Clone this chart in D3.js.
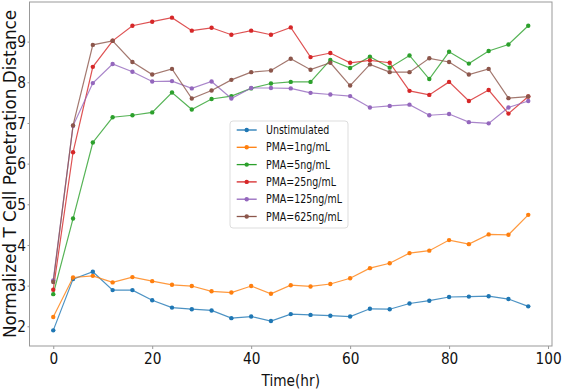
<!DOCTYPE html>
<html>
<head>
<meta charset="utf-8">
<script src="https://cdn.jsdelivr.net/npm/d3@7"></script>
<style>
  body { margin: 0; background: #fff; }
  svg { display: block; font-family: "DejaVu Sans", sans-serif; }
</style>
</head>
<body>
<div id="chart"></div>
<script>
// time points (hours)
var hours = [0, 4, 8, 12, 16, 20, 24, 28, 32, 36, 40, 44, 48, 52, 56, 60, 64, 68, 72, 76, 80, 84, 88, 92, 96];

var seriesNames = ["Unstimulated", "PMA=1ng/mL", "PMA=5ng/mL", "PMA=25ng/mL", "PMA=125ng/mL", "PMA=625ng/mL"];
var seriesColors = ["#1f77b4", "#ff7f0e", "#2ca02c", "#d62728", "#9467bd", "#8c564b"];

var unstimulated = [1.90, 3.16, 3.34, 2.89, 2.89, 2.64, 2.46, 2.42, 2.39, 2.20, 2.24, 2.13, 2.30, 2.28, 2.26, 2.24, 2.43, 2.42, 2.56, 2.63, 2.72, 2.73, 2.74, 2.67, 2.49];
var pma1 = [2.23, 3.20, 3.24, 3.08, 3.21, 3.11, 3.02, 2.99, 2.86, 2.83, 2.99, 2.80, 3.01, 2.98, 3.04, 3.18, 3.43, 3.55, 3.80, 3.86, 4.12, 4.02, 4.26, 4.25, 4.74];
var pma5 = [2.79, 4.65, 6.52, 7.14, 7.19, 7.26, 7.75, 7.33, 7.59, 7.66, 7.85, 7.97, 8.01, 8.01, 8.55, 8.35, 8.63, 8.36, 8.66, 8.08, 8.75, 8.46, 8.77, 8.93, 9.39];
var pma25 = [2.90, 6.28, 8.38, 9.02, 9.39, 9.49, 9.59, 9.27, 9.34, 9.17, 9.27, 9.17, 9.35, 8.62, 8.72, 8.48, 8.54, 8.48, 7.79, 7.69, 8.01, 7.54, 7.81, 7.23, 7.65];
var pma125 = [3.13, 6.93, 7.98, 8.45, 8.26, 8.02, 8.03, 7.85, 8.02, 7.60, 7.86, 7.86, 7.85, 7.74, 7.70, 7.66, 7.38, 7.42, 7.45, 7.19, 7.22, 7.02, 6.99, 7.38, 7.54];
var pma625 = [3.09, 6.94, 8.92, 9.02, 8.50, 8.19, 8.33, 7.60, 7.80, 8.06, 8.25, 8.29, 8.58, 8.31, 8.48, 7.92, 8.44, 8.25, 8.25, 8.59, 8.50, 8.19, 8.33, 7.61, 7.65];

var xTicks = [0, 20, 40, 60, 80, 100];
var yTicks = [2, 3, 4, 5, 6, 7, 8, 9];

var allSeries = [unstimulated, pma1, pma5, pma25, pma125, pma625];

var width = 565, height = 390;
var margin = { top: 2, right: 13, bottom: 44, left: 29.5 };
var innerW = width - margin.left - margin.right;
var innerH = height - margin.top - margin.bottom;
var SX = 0.83; // the picture is squeezed a bit horizontally
var fontSize = 16.5;

var svg = d3.select("#chart").append("svg")
    .attr("width", width)
    .attr("height", height);

var chart = svg.append("g")
    .attr("transform", "translate(" + margin.left + "," + margin.top + ")");

// matplotlib style 5% margins
var xExt = d3.extent(hours);
var xPad = (xExt[1] - xExt[0]) * 0.05;
var yExt = d3.extent(d3.merge(allSeries));
var yPad = (yExt[1] - yExt[0]) * 0.05;

var x = d3.scaleLinear().domain([xExt[0] - xPad, xExt[1] + xPad]).range([0, innerW]);
var y = d3.scaleLinear().domain([yExt[0] - yPad, yExt[1] + yPad]).range([innerH, 0]);

// axes
var xAxis = chart.append("g")
    .attr("transform", "translate(0," + innerH + ")")
    .call(d3.axisBottom(x).tickValues(xTicks).tickSize(3).tickPadding(3));
xAxis.selectAll("text")
    .attr("font-size", fontSize)
    .attr("font-family", "DejaVu Sans")
    .attr("fill", "#111")
    .attr("transform", "scale(" + SX + ",1)");

var yAxis = chart.append("g")
    .call(d3.axisLeft(y).tickValues(yTicks).tickSize(2).tickPadding(0));
yAxis.selectAll("text")
    .attr("font-size", fontSize)
    .attr("font-family", "DejaVu Sans")
    .attr("fill", "#111")
    .attr("x", -3.5 / SX)
    .attr("transform", "scale(" + SX + ",1)");

chart.selectAll(".domain").remove();
chart.selectAll(".tick line").attr("stroke", "#999");

// frame
chart.append("rect")
    .attr("width", innerW)
    .attr("height", innerH)
    .attr("fill", "none")
    .attr("stroke", "#999")
    .attr("stroke-width", 1);

// lines
var line = d3.line()
    .x(function (d, i) { return x(hours[i]); })
    .y(function (d) { return y(d); });

allSeries.forEach(function (vals, s) {
    chart.append("path")
        .datum(vals)
        .attr("d", line)
        .attr("fill", "none")
        .attr("stroke", seriesColors[s])
        .attr("stroke-opacity", 0.8)
        .attr("stroke-width", 1.2);

    chart.selectAll(".pt" + s)
        .data(vals)
        .enter().append("circle")
        .attr("class", "pt" + s)
        .attr("cx", function (d, i) { return x(hours[i]); })
        .attr("cy", function (d) { return y(d); })
        .attr("r", 2.2)
        .attr("fill", seriesColors[s]);
});

// legend
var legend = svg.append("g").attr("transform", "translate(230,121)");
legend.append("rect")
    .attr("width", 118)
    .attr("height", 107)
    .attr("rx", 3)
    .attr("fill", "#fff")
    .attr("fill-opacity", 0.8)
    .attr("stroke", "#ddd");

seriesNames.forEach(function (name, i) {
    var row = legend.append("g").attr("transform", "translate(0," + (9 + i * 17.3) + ")");
    row.append("line")
        .attr("x1", 6.7).attr("x2", 26.7)
        .attr("stroke", seriesColors[i])
        .attr("stroke-width", 1.3);
    row.append("circle")
        .attr("cx", 16.7)
        .attr("r", 2.2)
        .attr("fill", seriesColors[i]);
    row.append("text")
        .attr("x", 36 / SX)
        .attr("y", 4)
        .attr("transform", "scale(" + SX + ",1)")
        .attr("font-size", 11.4)
        .attr("fill", "#111")
        .text(name);
});

// axis titles
svg.append("text")
    .attr("x", (margin.left + innerW / 2) / SX)
    .attr("y", 386)
    .attr("transform", "scale(" + SX + ",1)")
    .attr("text-anchor", "middle")
    .attr("font-size", fontSize)
    .attr("fill", "#111")
    .text("Time(hr)");

svg.append("text")
    .attr("transform", "translate(15.5," + (margin.top + innerH / 2) + ") rotate(-90)")
    .attr("text-anchor", "middle")
    .attr("font-size", 16.8)
    .attr("fill", "#111")
    .text("Normalized T Cell Penetration Distance");
</script>
</body>
</html>
